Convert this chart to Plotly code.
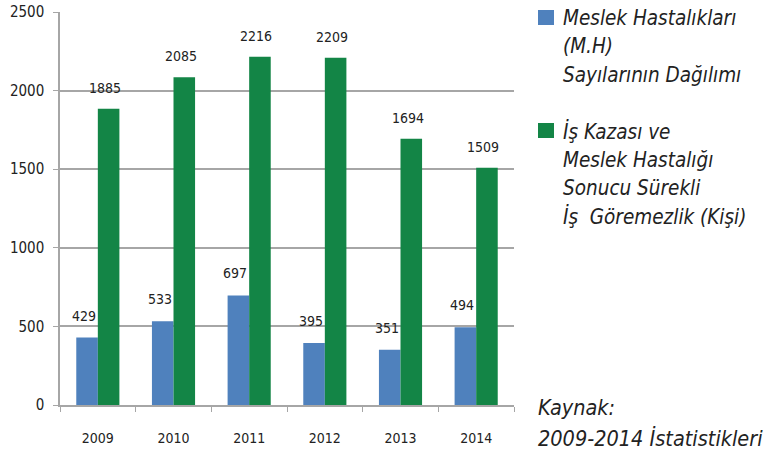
import plotly.graph_objects as go

years = ["2009", "2010", "2011", "2012", "2013", "2014"]
mh_values = [429, 533, 697, 395, 351, 494]
isg_values = [1885, 2085, 2216, 2209, 1694, 1509]
legend_lines = [
    ["Meslek Hastalıkları", "(M.H)", "Sayılarının Dağılımı"],
    ["İş Kazası ve", "Meslek Hastalığı", "Sonucu Sürekli", "İş  Göremezlik (Kişi)"],
]
y_ticks = [0, 500, 1000, 1500, 2000, 2500]
source_lines = ["Kaynak:", "2009-2014 İstatistikleri"]

BLUE = "#4F81BD"
GREEN = "#138546"
COLORS = [BLUE, GREEN]
FONT = "DejaVu Sans Condensed"
TXT = "#222222"

W, H = 767, 453
L, R, T, B = 60, 253, 12, 48
PW, PH = W - L - R, H - T - B


def px(x):
    return (x - L) / PW


def py(y):
    return (H - B - y) / PH


fig = go.Figure()
fig.add_trace(go.Bar(x=years, y=mh_values, name=" ".join(legend_lines[0]),
                     marker=dict(color=BLUE, line=dict(width=0)), showlegend=False,
                     offsetgroup="a"))
fig.add_trace(go.Bar(x=years, y=isg_values, name=" ".join(legend_lines[1]),
                     marker=dict(color=GREEN, line=dict(width=0)), showlegend=False,
                     offsetgroup="b"))

# value labels (category axis -> annotation x is the category index)
for i, v in enumerate(mh_values):
    fig.add_annotation(x=i, y=v, xref="x", yref="y", text=str(v), showarrow=False,
                       xshift=-14, yshift=22, font=dict(family=FONT, size=14, color=TXT))
for i, v in enumerate(isg_values):
    fig.add_annotation(x=i, y=v, xref="x", yref="y", text=str(v), showarrow=False,
                       xshift=7, yshift=21, font=dict(family=FONT, size=14, color=TXT))

# legend (manual, to match the line spacing)
block_tops = [18, 131]
line_step = 28.5
for k, lines in enumerate(legend_lines):
    top = block_tops[k]
    fig.add_shape(type="rect", xref="paper", yref="paper",
                  x0=px(538), x1=px(554), y0=py(top - 8), y1=py(top + 7),
                  fillcolor=COLORS[k], line=dict(width=0))
    for i, ln in enumerate(lines):
        fig.add_annotation(x=px(561), y=py(top + i * line_step), xref="paper", yref="paper",
                           text="<i>" + ln + "</i>", showarrow=False,
                           xanchor="left", yanchor="middle",
                           font=dict(family=FONT, size=20.5, color=TXT))

fig.add_annotation(x=px(536), y=py(407), xref="paper", yref="paper",
                   text="<i>" + source_lines[0] + "</i>", showarrow=False,
                   xanchor="left", yanchor="middle", font=dict(family=FONT, size=21.5, color=TXT))
fig.add_annotation(x=px(536), y=py(438), xref="paper", yref="paper",
                   text="<i>" + source_lines[1] + "</i>", showarrow=False,
                   xanchor="left", yanchor="middle", font=dict(family=FONT, size=21.5, color=TXT))

fig.update_layout(
    width=W, height=H,
    margin=dict(l=L, r=R, t=T, b=B),
    paper_bgcolor="white", plot_bgcolor="white",
    barmode="group", bargap=0.43, bargroupgap=0,
    font=dict(family=FONT, size=14, color=TXT),
    showlegend=False,
)
fig.update_yaxes(range=[0, 2500], tickvals=y_ticks, showgrid=True, gridcolor="#A6A6A6", gridwidth=1.5,
                 showline=True, linecolor="#A6A6A6", linewidth=1.5, ticks="outside", ticklen=5,
                 tickcolor="#A6A6A6", zeroline=False, automargin=False, ticklabelstandoff=6,
                 tickfont=dict(family=FONT, size=15, color=TXT))
fig.update_xaxes(type="category", range=[-0.5, len(years) - 0.5], autorange=False,
                 showline=True, linecolor="#A6A6A6", linewidth=1.5, automargin=False,
                 ticks="outside", ticklen=5, tickcolor="#A6A6A6", tickson="boundaries",
                 ticklabelstandoff=19, tickfont=dict(family=FONT, size=14, color=TXT))

fig.write_html("out.html", config={"displayModeBar": False},
               post_script="document.body.style.margin='0';document.body.style.padding='0';")
